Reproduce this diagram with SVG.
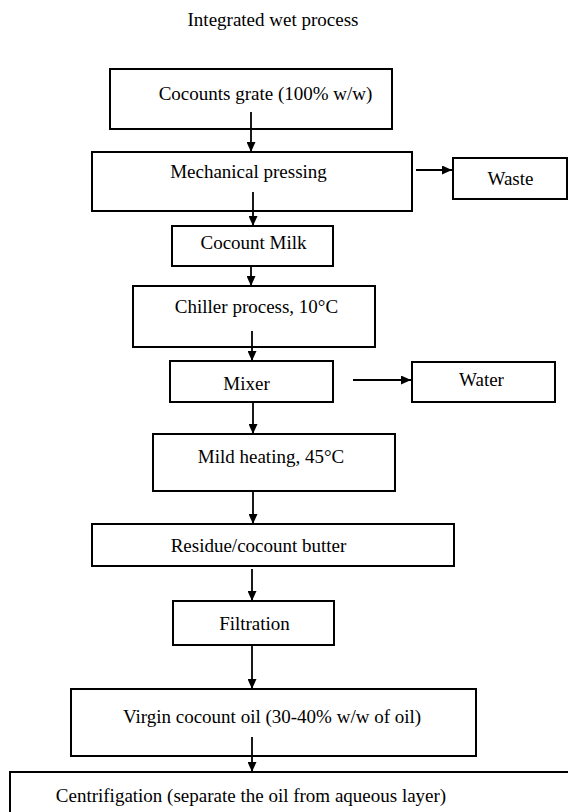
<svg xmlns="http://www.w3.org/2000/svg" width="568" height="812" viewBox="0 0 568 812">
<defs>
<style>
.box{fill:#fff;stroke:#000;stroke-width:2}
.t{font-family:'Liberation Serif','Times New Roman','DejaVu Serif',serif;font-size:19px;fill:#000;text-anchor:middle}
.c{stroke:#000;stroke-width:1.8;fill:none;marker-end:url(#ah)}
</style>
<marker id="ah" markerUnits="userSpaceOnUse" markerWidth="10" markerHeight="9" refX="10" refY="4.5" orient="auto">
<path d="M0,0 L10,4.5 L0,9 z" fill="#000"/>
</marker>
</defs>
<rect width="568" height="812" fill="#fff"/>
<g font-family="Liberation Serif, Times New Roman, DejaVu Serif, serif">
<text class="t" x="273" y="26">Integrated wet process</text>
<g id="n1"><rect class="box" x="110" y="69" width="282" height="60"/><text class="t" x="265.5" y="100">Cocounts grate (100% w/w)</text></g>
<g id="n2"><rect class="box" x="92" y="152" width="320" height="59"/><text class="t" x="248.5" y="178">Mechanical pressing</text></g>
<g id="n3"><rect class="box" x="453" y="158" width="114" height="41"/><text class="t" x="510.5" y="185">Waste</text></g>
<g id="n4"><rect class="box" x="172" y="226" width="161" height="40"/><text class="t" x="253.5" y="249">Cocount Milk</text></g>
<g id="n5"><rect class="box" x="133" y="286" width="242" height="61"/><text class="t" x="256.5" y="313">Chiller process, 10°C</text></g>
<g id="n6"><rect class="box" x="170" y="361" width="163" height="41"/><text class="t" x="246.5" y="390">Mixer</text></g>
<g id="n7"><rect class="box" x="412" y="362" width="143" height="40"/><text class="t" x="481.5" y="386">Water</text></g>
<g id="n8"><rect class="box" x="153" y="434" width="242" height="57"/><text class="t" x="271" y="463">Mild heating, 45°C</text></g>
<g id="n9"><rect class="box" x="92" y="524" width="362" height="42"/><text class="t" x="258.5" y="552">Residue/cocount butter</text></g>
<g id="n10"><rect class="box" x="173" y="601" width="161" height="44"/><text class="t" x="254.5" y="630">Filtration</text></g>
<g id="n11"><rect class="box" x="71" y="689" width="405" height="67"/><text class="t" x="272" y="723">Virgin cocount oil (30-40% w/w of oil)</text></g>
<g id="n12"><rect class="box" x="10" y="772" width="570" height="60"/><text class="t" x="251" y="802">Centrifigation (separate the oil from aqueous layer)</text></g>
</g>
<g id="connectors">
<line class="c" x1="251" y1="112" x2="251" y2="152"/>
<line class="c" x1="253" y1="192" x2="253" y2="226"/>
<line class="c" x1="251" y1="266" x2="251" y2="286"/>
<line class="c" x1="252" y1="331" x2="252" y2="361"/>
<line class="c" x1="253" y1="402" x2="253" y2="434"/>
<line class="c" x1="253" y1="491" x2="253" y2="524"/>
<line class="c" x1="252" y1="569" x2="252" y2="601"/>
<line class="c" x1="252" y1="645" x2="252" y2="689"/>
<line class="c" x1="252" y1="737" x2="252" y2="772"/>
<line class="c" x1="416" y1="170" x2="452" y2="170"/>
<line class="c" x1="353" y1="380" x2="411" y2="380"/>
</g>
</svg>
